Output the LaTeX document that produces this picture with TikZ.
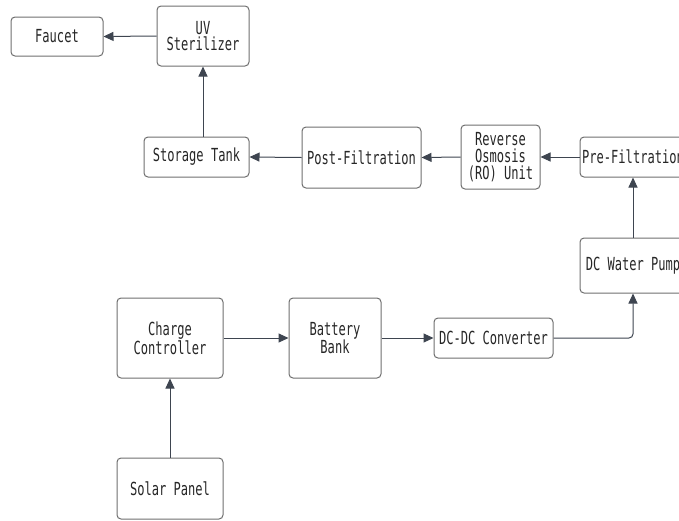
\documentclass[tikz,border=0pt]{standalone}
\usepackage{fontspec}
\setmonofont[FakeStretch=0.67]{DejaVu Sans Mono}
\usetikzlibrary{arrows.meta}
\definecolor{boxline}{HTML}{6E6E6E}
\definecolor{wire}{HTML}{3E4550}

\begin{document}
\begin{tikzpicture}[x=1pt,y=-1pt,
  blk/.style={draw=boxline,line width=1pt,rounded corners=4pt,align=center,inner sep=0pt,
    font=\ttfamily\fontsize{18}{16.7}\selectfont,text=black!85},
  flow/.style={-{Triangle[length=10pt,width=9pt]},draw=wire,line width=1pt}]

\useasboundingbox (0,0) rectangle (679,520);

\node[blk,minimum width=92pt,minimum height=39pt] (faucet) at (57,36.5) {Faucet};
\node[blk,minimum width=92pt,minimum height=60pt] (uv) at (203,36) {UV\\Sterilizer};
\node[blk,minimum width=105pt,minimum height=40pt] (tank) at (196.5,157) {Storage Tank};
\node[blk,minimum width=119pt,minimum height=61pt] (post) at (361.5,157.5) {Post-Filtration};
\node[blk,minimum width=79pt,minimum height=64pt] (ro) at (500.5,157) {Reverse\\Osmosis\\(RO) Unit};
\node[blk,minimum width=106pt,minimum height=40pt] (pre) at (633,157) {Pre-Filtration};
\node[blk,minimum width=106pt,minimum height=55pt] (pump) at (633,265.5) {DC Water Pump};
\node[blk,minimum width=106pt,minimum height=80pt] (charge) at (170,338) {Charge\\Controller};
\node[blk,minimum width=92pt,minimum height=80pt] (battery) at (335,338) {Battery\\Bank};
\node[blk,minimum width=119pt,minimum height=40pt] (dcdc) at (493.5,338) {DC-DC Converter};
\node[blk,minimum width=106pt,minimum height=61pt] (solar) at (170,488.5) {Solar Panel};

\draw[flow] (solar.north) -- (charge.south);
\draw[flow] (charge.east) -- (battery.west);
\draw[flow] (battery.east) -- (dcdc.west);
\draw[flow,rounded corners=4pt] (dcdc.east) -| (pump.south);
\draw[flow] (pump.north) -- (pre.south);
\draw[flow] (pre.west) -- (ro.east);
\draw[flow] (ro.west) -- (post.east);
\draw[flow] (post.west) -- (tank.east);
\draw[flow] (uv.south |- tank.north) -- (uv.south);
\draw[flow] (uv.west) -- (faucet.east);

\end{tikzpicture}
\end{document}
